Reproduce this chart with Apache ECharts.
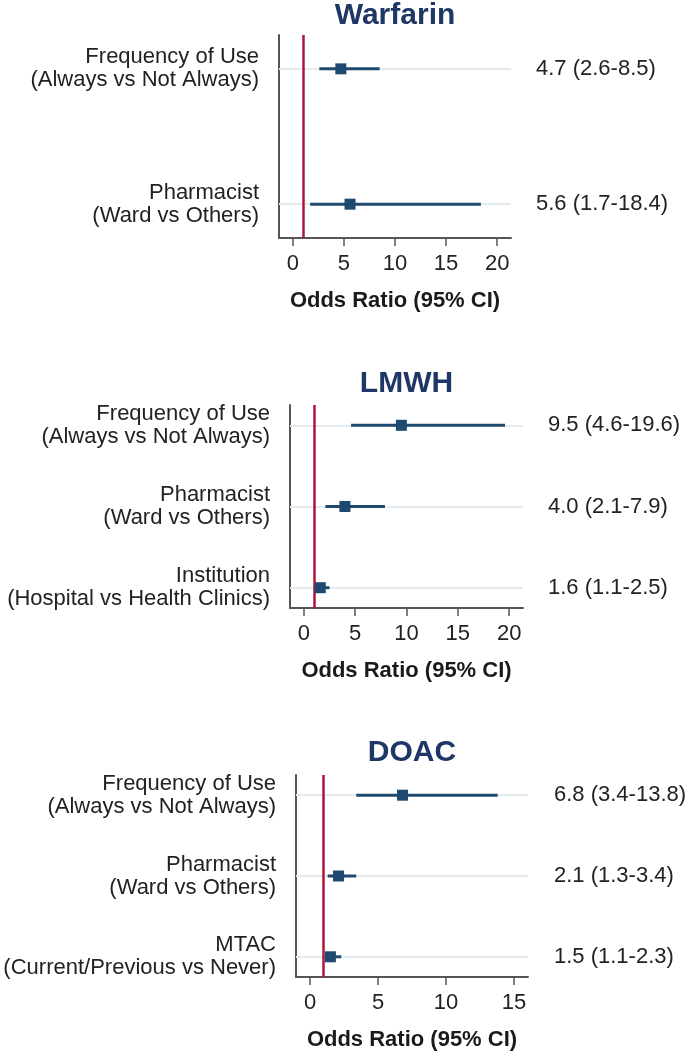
<!DOCTYPE html>
<html>
<head>
<meta charset="utf-8">
<script src="https://cdn.jsdelivr.net/npm/echarts@6/dist/echarts.min.js"></script>
<style>
  html, body { margin: 0; padding: 0; background: #fff; }
  #chart { width: 685px; height: 1054px; }
</style>
</head>
<body>
<div id="chart"></div>
<script>
// panel titles
const panelTitles = ['Warfarin', 'LMWH', 'DOAC']

// row labels per panel
const warfarinLabels = ['Frequency of Use\n(Always vs Not Always)', 'Pharmacist\n(Ward vs Others)']
const lmwhLabels = ['Frequency of Use\n(Always vs Not Always)', 'Pharmacist\n(Ward vs Others)', 'Institution\n(Hospital vs Health Clinics)']
const doacLabels = ['Frequency of Use\n(Always vs Not Always)', 'Pharmacist\n(Ward vs Others)', 'MTAC\n(Current/Previous vs Never)']

// odds ratio, lower and upper 95% CI
const warfarinOR = [4.7, 5.6]
const warfarinLo = [2.6, 1.7]
const warfarinHi = [8.5, 18.4]

const lmwhOR = [9.5, 4.0, 1.6]
const lmwhLo = [4.6, 2.1, 1.1]
const lmwhHi = [19.6, 7.9, 2.5]

const doacOR = [6.8, 2.1, 1.5]
const doacLo = [3.4, 1.3, 1.1]
const doacHi = [13.8, 3.4, 2.3]

// x ticks
const ticks20 = [0, 5, 10, 15, 20]
const ticks15 = [0, 5, 10, 15]

const panels = [
  { labels: warfarinLabels, or: warfarinOR, lo: warfarinLo, hi: warfarinHi, ticks: ticks20, grid: { left: 279, top: 35, width: 232, height: 203 }, xmin: -1.35, xmax: 21.35, gap: 25 },
  { labels: lmwhLabels, or: lmwhOR, lo: lmwhLo, hi: lmwhHi, ticks: ticks20, grid: { left: 290, top: 405, width: 233, height: 203 }, xmin: -1.35, xmax: 21.35, gap: 25 },
  { labels: doacLabels, or: doacOR, lo: doacLo, hi: doacHi, ticks: ticks15, grid: { left: 296, top: 775, width: 232, height: 202 }, xmin: -1.03, xmax: 16.03, gap: 26 }
]
const titleTops = [1, 369, 738]

const FONT = 'Liberation Sans, Arial, sans-serif'
const MARK = '#1d4a6e'
const RED = '#b0143c'

let grids = []
let xAxes = []
let yAxes = []
let series = []
let titles = []

panels.forEach((p, i) => {
  const n = p.labels.length
  const rows = p.labels.map((_, k) => k + 1)
  grids.push(Object.assign({ outerBoundsMode: 'none', containLabel: false }, p.grid))
  titles.push({
    text: panelTitles[i],
    left: p.grid.left + p.grid.width / 2,
    top: titleTops[i],
    textAlign: 'center',
    padding: 0,
    textStyle: { fontFamily: FONT, fontSize: 30, fontWeight: 'bold', color: '#1f3767' }
  })
  xAxes.push({
    type: 'value',
    gridIndex: i,
    min: p.xmin,
    max: p.xmax,
    name: 'Odds Ratio (95% CI)',
    nameLocation: 'middle',
    nameGap: 52,
    nameTextStyle: { fontFamily: FONT, fontSize: 22, fontWeight: 'bold', color: '#1a1a1a' },
    axisLine: { show: true, lineStyle: { color: '#555', width: 2 } },
    axisTick: { show: true, length: 8, customValues: p.ticks, lineStyle: { color: '#555', width: 1.5 } },
    axisLabel: { customValues: p.ticks, margin: 15, fontFamily: FONT, fontSize: 22, color: '#222' },
    splitLine: { show: false }
  })
  yAxes.push({
    type: 'value',
    gridIndex: i,
    inverse: true,
    min: 0.75,
    max: n + 0.25,
    axisLine: { show: true, onZero: false, lineStyle: { color: '#555', width: 2 } },
    axisTick: { show: false },
    splitLine: { show: false },
    axisLabel: {
      customValues: rows,
      margin: 20,
      fontFamily: FONT,
      fontSize: 22,
      lineHeight: 23,
      color: '#222',
      align: 'right',
      formatter: (v) => p.labels[Math.round(v) - 1]
    }
  })
  yAxes.push({
    type: 'value',
    gridIndex: i,
    position: 'right',
    inverse: true,
    min: 0.75,
    max: n + 0.25,
    axisLine: { show: false },
    axisTick: { show: false },
    splitLine: { show: false },
    axisLabel: {
      customValues: rows,
      margin: p.gap,
      fontFamily: FONT,
      fontSize: 22,
      color: '#222',
      formatter: (v) => {
        const k = Math.round(v) - 1
        return p.or[k].toFixed(1) + ' (' + p.lo[k].toFixed(1) + '-' + p.hi[k].toFixed(1) + ')'
      }
    }
  })
  // CI whiskers, with the faint row lines underneath
  series.push({
    type: 'custom',
    xAxisIndex: i,
    yAxisIndex: i * 2,
    z: 3,
    data: rows.map((r, k) => [p.lo[k], p.hi[k], r]),
    renderItem: (params, api) => {
      const a = api.coord([api.value(0), api.value(2)])
      const b = api.coord([api.value(1), api.value(2)])
      return {
        type: 'rect',
        shape: { x: a[0], y: a[1] - 1.5, width: b[0] - a[0], height: 3 },
        style: { fill: MARK }
      }
    },
    markLine: {
      silent: true,
      z: 1,
      symbol: 'none',
      label: { show: false },
      data: rows.map(r => ({ yAxis: r, lineStyle: { color: '#e3ebee', width: 2, type: 'solid' } }))
    }
  })
  // point estimates + reference line at OR = 1
  series.push({
    type: 'scatter',
    xAxisIndex: i,
    yAxisIndex: i * 2,
    z: 4,
    symbol: 'rect',
    symbolSize: 11,
    itemStyle: { color: MARK, opacity: 1 },
    data: rows.map((r, k) => [p.or[k], r]),
    markLine: {
      silent: true,
      z: 2,
      symbol: 'none',
      label: { show: false },
      data: [{ xAxis: 1, lineStyle: { color: RED, width: 2.5, type: 'solid' } }]
    }
  })
})

const chart = echarts.init(document.getElementById('chart'))
chart.setOption({
  animation: false,
  backgroundColor: '#fff',
  title: titles,
  grid: grids,
  xAxis: xAxes,
  yAxis: yAxes,
  series: series
})
</script>
</body>
</html>
